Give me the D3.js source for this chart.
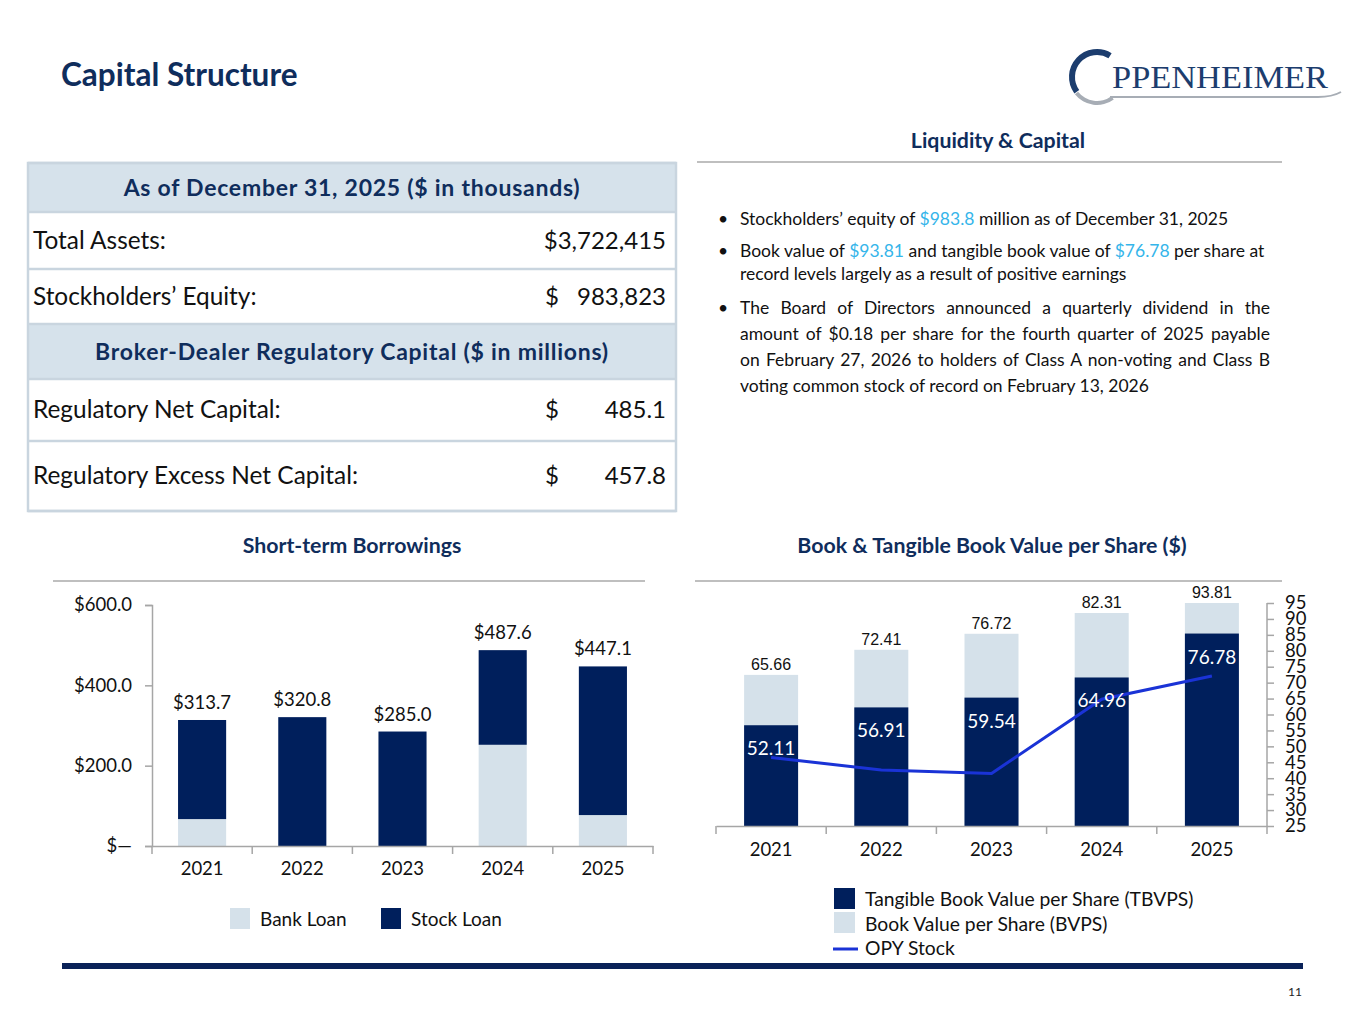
<!DOCTYPE html>
<html>
<head>
<meta charset="utf-8">
<script src="https://cdn.jsdelivr.net/npm/d3@7"></script>
<style>
  html, body { margin: 0; padding: 0; background: #fff; }
  #page { position: relative; width: 1365px; height: 1024px; overflow: hidden; font-family: Lato, "Open Sans", sans-serif; }
  #page svg { position: absolute; left: 0; top: 0; }
  .bl { position: absolute; font-size: 17.5px; color: #111; white-space: nowrap; }
  .bl.j { text-align: justify; text-align-last: justify; white-space: normal; }
  .hl { color: #35b5ea; }
</style>
</head>
<body>
<div id="page"></div>
<script>
// ---- data ----
var years = ["2021", "2022", "2023", "2024", "2025"]
var bankLoan = [67.0, 0, 0, 252.0, 77.0]
var stockLoan = [246.7, 320.8, 285.0, 235.6, 370.1]
var borrowTotals = ["$313.7", "$320.8", "$285.0", "$487.6", "$447.1"]
var borrowTicks = [0, 200, 400, 600]

var tbvps = [52.11, 56.91, 59.54, 64.96, 76.78]
var bvps = [65.66, 72.41, 76.72, 82.31, 93.81]
var opyStock = [46.5, 42.6, 41.5, 64.8, 72.1]
var opyTicks = [25, 30, 35, 40, 45, 50, 55, 60, 65, 70, 75, 80, 85, 90, 95]

var tableRows = [
  {type: "head", label: "As of December 31, 2025 ($ in thousands)"},
  {type: "row", label: "Total Assets:", cur: "", value: "$3,722,415"},
  {type: "row", label: "Stockholders\u2019 Equity:", cur: "$", value: "983,823"},
  {type: "head", label: "Broker-Dealer Regulatory Capital ($ in millions)"},
  {type: "row", label: "Regulatory Net Capital:", cur: "$", value: "485.1"},
  {type: "row", label: "Regulatory Excess Net Capital:", cur: "$", value: "457.8"}
]

var navy = "#001f5c"
var lightBar = "#d5e1ea"
var titleNavy = "#0f2d5c"
var axisGrey = "#a6a6a6"

var page = d3.select("#page")
var svg = page.append("svg").attr("width", 1365).attr("height", 1024)

// ---- title + logo ----
svg.append("text")
  .attr("x", 61).attr("y", 86)
  .attr("font-size", 31.5).attr("font-weight", 700)
  .attr("fill", titleNavy)
  .text("Capital Structure")

var logo = svg.append("g").attr("transform", "translate(1097,77)")
var ring = d3.arc()
logo.append("path")
  .attr("d", ring({innerRadius: 22, outerRadius: 28, startAngle: -2.2, endAngle: 0.55}))
  .attr("fill", "#1c3d6e")
logo.append("path")
  .attr("d", ring({innerRadius: 24, outerRadius: 28, startAngle: 2.5, endAngle: 4.05}))
  .attr("fill", "#a7adb5")
svg.append("text")
  .attr("x", 1112).attr("y", 88)
  .attr("font-family", "'Liberation Serif', 'DejaVu Serif', serif")
  .attr("font-size", 31).attr("fill", "#1c3d6e")
  .attr("textLength", 216).attr("lengthAdjust", "spacingAndGlyphs")
  .text("PPENHEIMER")
svg.append("path")
  .attr("d", "M1110,97 L1318,97 Q1332,97 1341,92")
  .attr("fill", "none").attr("stroke", "#a7adb5").attr("stroke-width", 2)

// ---- section headings ----
function heading(x, y, txt, x1, x2, ly) {
  svg.append("text").attr("x", x).attr("y", y).attr("text-anchor", "middle")
    .attr("font-size", 21.3).attr("font-weight", 700).attr("fill", titleNavy).text(txt)
  svg.append("line").attr("x1", x1).attr("x2", x2).attr("y1", ly).attr("y2", ly)
    .attr("stroke", "#bfbfbf").attr("stroke-width", 2)
}
heading(998, 148, "Liquidity & Capital", 697, 1282, 162)
heading(352, 553, "Short-term Borrowings", 53, 645, 581)
heading(992, 553, "Book & Tangible Book Value per Share ($)", 695, 1282, 581)

// ---- table ----
var rowTops = [163, 212, 269, 324, 379, 441, 511]
var tbl = svg.append("g")
tableRows.forEach((r, i) => {
  var y0 = rowTops[i], y1 = rowTops[i + 1]
  tbl.append("rect").attr("x", 28).attr("y", y0).attr("width", 648).attr("height", y1 - y0)
    .attr("fill", r.type == "head" ? "#d6e2eb" : "#fff")
  var mid = (y0 + y1) / 2
  if (r.type == "head") {
    tbl.append("text").attr("x", 352).attr("y", mid + 8).attr("text-anchor", "middle")
      .attr("font-size", 23).attr("font-weight", 700).attr("fill", titleNavy)
      .attr("letter-spacing", 0.75)
      .text(r.label)
  } else {
    tbl.append("text").attr("x", 33).attr("y", mid + 8)
      .attr("font-size", 24.4).attr("fill", "#111").text(r.label)
    tbl.append("text").attr("x", 666).attr("y", mid + 8).attr("text-anchor", "end")
      .attr("font-size", 24).attr("fill", "#111")
      .text(r.value)
    if (r.cur) {
      tbl.append("text").attr("x", 545).attr("y", mid + 8)
        .attr("font-size", 24).attr("fill", "#111").text(r.cur)
    }
  }
})
rowTops.forEach((y, i) => {
  tbl.append("line").attr("x1", 28).attr("x2", 676).attr("y1", y).attr("y2", y)
    .attr("stroke", "#c9d5df").attr("stroke-width", 2.5)
})
tbl.append("rect").attr("x", 28).attr("y", 163).attr("width", 648).attr("height", 348)
  .attr("fill", "none").attr("stroke", "#c9d5df").attr("stroke-width", 2.5)

// ---- bullets ----
var bullets = [
  {top: 208, lines: ['Stockholders\u2019 equity of <span class="hl">$983.8</span> million as of December 31, 2025'], j: false},
  {top: 240, lines: ['Book value of <span class="hl">$93.81</span> and tangible book value of <span class="hl">$76.78</span> per share at',
                     'record levels largely as a result of positive earnings'], j: false, lh: 23},
  {top: 297, lines: ['The Board of Directors announced a quarterly dividend in the',
                     'amount of $0.18 per share for the fourth quarter of 2025 payable',
                     'on February 27, 2026 to holders of Class A non-voting and Class B',
                     'voting common stock of record on February 13, 2026'], j: true, lh: 26}
]
bullets.forEach(b => {
  page.append("div").attr("class", "bl").style("left", "718px").style("top", b.top + "px").html("\u2022")
  b.lines.forEach((l, k) => {
    var justify = b.j && k < b.lines.length - 1
    page.append("div").attr("class", justify ? "bl j" : "bl")
      .style("left", "740px").style("top", (b.top + k * (b.lh || 0)) + "px")
      .style("width", justify ? "530px" : null)
      .html(l)
  })
})

// ---- short-term borrowings chart ----
var xL = d3.scaleBand().domain(years).range([152, 653]).paddingInner(0.52).paddingOuter(0.26)
var yL = d3.scaleLinear().domain([0, 600]).range([846, 605])
var gL = svg.append("g")

gL.selectAll(".bank").data(years).join("rect")
  .attr("x", d => xL(d)).attr("width", xL.bandwidth())
  .attr("y", (d, i) => yL(bankLoan[i])).attr("height", (d, i) => yL(0) - yL(bankLoan[i]))
  .attr("fill", lightBar)
gL.selectAll(".stock").data(years).join("rect")
  .attr("x", d => xL(d)).attr("width", xL.bandwidth())
  .attr("y", (d, i) => yL(bankLoan[i] + stockLoan[i])).attr("height", (d, i) => yL(0) - yL(stockLoan[i]))
  .attr("fill", navy)
gL.selectAll(".tot").data(years).join("text")
  .attr("x", d => xL(d) + xL.bandwidth() / 2)
  .attr("y", (d, i) => yL(bankLoan[i] + stockLoan[i]) - 11)
  .attr("text-anchor", "middle").attr("font-size", 18.5).attr("fill", "#111")
  .text((d, i) => borrowTotals[i])

var yAxisL = gL.append("g").attr("transform", "translate(152,0)")
  .call(d3.axisLeft(yL).tickValues(borrowTicks).tickSize(7).tickPadding(13)
    .tickFormat(d => d === 0 ? "$\u2014" : "$" + d.toFixed(1)))
yAxisL.selectAll("text").attr("font-size", 18.5).attr("font-family", "Lato").attr("fill", "#111")

var xAxisL = gL.append("g").attr("transform", "translate(0,846)")
  .call(d3.axisBottom(xL).tickSize(0).tickPadding(16))
xAxisL.selectAll("text").attr("font-size", 18.5).attr("font-family", "Lato").attr("fill", "#111")
var edgesL = years.map(d => xL(d) - (xL.step() - xL.bandwidth()) / 2).concat([xL.range()[1]])
xAxisL.selectAll(".edge").data(edgesL).join("line")
  .attr("x1", d => d).attr("x2", d => d).attr("y1", 0).attr("y2", 8)
  .attr("stroke", axisGrey).attr("stroke-width", 1.5)
gL.selectAll(".domain").attr("stroke", axisGrey).attr("stroke-width", 1.5)
gL.selectAll(".tick line").attr("stroke", axisGrey).attr("stroke-width", 1.5)

// legend
var legL = svg.append("g")
legL.append("rect").attr("x", 230).attr("y", 908).attr("width", 20).attr("height", 21).attr("fill", lightBar)
legL.append("text").attr("x", 260).attr("y", 926).attr("font-size", 19).attr("fill", "#111").text("Bank Loan")
legL.append("rect").attr("x", 381).attr("y", 908).attr("width", 20).attr("height", 21).attr("fill", navy)
legL.append("text").attr("x", 411).attr("y", 926).attr("font-size", 19).attr("fill", "#111").text("Stock Loan")

// ---- book value chart ----
var xR = d3.scaleBand().domain(years).range([716, 1267]).paddingInner(0.51).paddingOuter(0.255)
var yBar = d3.scaleLinear().domain([25, 85]).range([826, 603]).clamp(true)
var yR = d3.scaleLinear().domain([25, 95]).range([826, 603])
var gR = svg.append("g")

gR.selectAll(".bv").data(years).join("rect")
  .attr("x", d => xR(d)).attr("width", xR.bandwidth())
  .attr("y", (d, i) => yBar(bvps[i])).attr("height", (d, i) => 826 - yBar(bvps[i]))
  .attr("fill", lightBar)
gR.selectAll(".tbv").data(years).join("rect")
  .attr("x", d => xR(d)).attr("width", xR.bandwidth())
  .attr("y", (d, i) => yBar(tbvps[i])).attr("height", (d, i) => 826 - yBar(tbvps[i]))
  .attr("fill", navy)
gR.selectAll(".bvl").data(years).join("text")
  .attr("x", d => xR(d) + xR.bandwidth() / 2)
  .attr("y", (d, i) => yBar(bvps[i]) - 5)
  .attr("text-anchor", "middle").attr("font-size", 16)
  .attr("font-family", "'Liberation Sans', Arial, sans-serif").attr("fill", "#111")
  .text((d, i) => bvps[i].toFixed(2))

var line = d3.line().x((d, i) => xR(years[i]) + xR.bandwidth() / 2).y(d => yR(d))
gR.append("path").datum(opyStock)
  .attr("fill", "none").attr("stroke", "#1a33d6").attr("stroke-width", 3)
  .attr("d", line)

gR.selectAll(".tbvl").data(years).join("text")
  .attr("x", d => xR(d) + xR.bandwidth() / 2)
  .attr("y", (d, i) => yBar(tbvps[i]) + 30)
  .attr("text-anchor", "middle").attr("font-size", 19).attr("fill", "#fff")
  .text((d, i) => tbvps[i].toFixed(2))

var xAxisR = gR.append("g").attr("transform", "translate(0,826)")
  .call(d3.axisBottom(xR).tickSize(0).tickPadding(17))
xAxisR.selectAll("text").attr("font-size", 18.5).attr("font-family", "Lato").attr("fill", "#111")
var edgesR = years.map(d => xR(d) - (xR.step() - xR.bandwidth()) / 2)
xAxisR.selectAll(".edge").data(edgesR).join("line")
  .attr("x1", d => d).attr("x2", d => d).attr("y1", 0).attr("y2", 8)
  .attr("stroke", axisGrey).attr("stroke-width", 1.5)

var yAxisR = gR.append("g").attr("transform", "translate(1267,0)")
  .call(d3.axisRight(yR).tickValues(opyTicks).tickSize(7).tickPadding(11).tickSizeOuter(0))
yAxisR.selectAll("text").attr("font-size", 18.5).attr("font-family", "Lato").attr("fill", "#111")
yAxisR.select(".domain").attr("d", "M0,603V834")
gR.selectAll(".domain").attr("stroke", axisGrey).attr("stroke-width", 1.5)
gR.selectAll(".tick line").attr("stroke", axisGrey).attr("stroke-width", 1.5)

// legend
var legR = svg.append("g")
legR.append("rect").attr("x", 834).attr("y", 888).attr("width", 21).attr("height", 21).attr("fill", navy)
legR.append("text").attr("x", 865).attr("y", 906).attr("font-size", 19.3).attr("fill", "#111").text("Tangible Book Value per Share (TBVPS)")
legR.append("rect").attr("x", 834).attr("y", 912).attr("width", 21).attr("height", 21).attr("fill", lightBar)
legR.append("text").attr("x", 865).attr("y", 931).attr("font-size", 19.3).attr("fill", "#111").text("Book Value per Share (BVPS)")
legR.append("line").attr("x1", 833).attr("x2", 858).attr("y1", 949).attr("y2", 949).attr("stroke", "#1a33d6").attr("stroke-width", 3)
legR.append("text").attr("x", 865).attr("y", 955).attr("font-size", 19.3).attr("fill", "#111").text("OPY Stock")

// ---- footer ----
svg.append("rect").attr("x", 62).attr("y", 963).attr("width", 1241).attr("height", 6).attr("fill", "#0a2258")
svg.append("text").attr("x", 1302).attr("y", 996).attr("text-anchor", "end")
  .attr("font-size", 12).attr("fill", "#222").text("11")
</script>
</body>
</html>
